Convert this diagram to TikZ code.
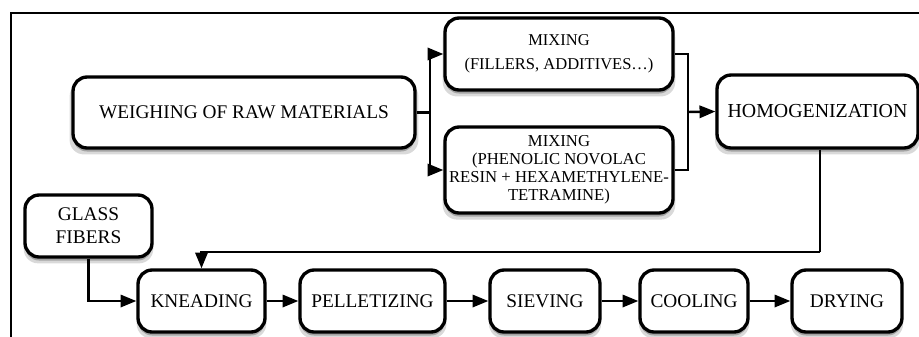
\documentclass[tikz,border=0pt]{standalone}
\usepackage{fontspec}
\setmainfont{Liberation Serif}
\usetikzlibrary{arrows.meta,shadows}
\begin{document}
\begin{tikzpicture}[x=0.02cm,y=-0.02cm,
  stage/.style={draw=black,line width=1.9pt,rounded corners=8pt,fill=white,align=center,inner sep=0pt,
    font=\fontsize{11}{13}\selectfont,
    drop shadow={shadow xshift=0pt,shadow yshift=-3.2pt,shadow scale=1.02,opacity=0.3},
    drop shadow={shadow xshift=0pt,shadow yshift=-2pt,opacity=0.6}},
  link/.style={line width=1.4pt},
  flow/.style={link,-{Triangle[length=9pt,width=7pt]}}]
\useasboundingbox (0,0) rectangle (919,336);
\clip (0,0) rectangle (919,336);
\draw[line width=0.9pt] (11,13) rectangle (960,380);
% top part
\node[stage,minimum width=6.84cm,minimum height=1.42cm] (weigh) at (244,112.5) {WEIGHING OF RAW MATERIALS};
\node[stage,minimum width=4.56cm,minimum height=1.44cm,font=\fontsize{9.4}{13.5}\selectfont] (mixA) at (559,54) {MIXING\\(FILLERS, ADDITIVES\dots)};
\node[stage,minimum width=4.56cm,minimum height=1.72cm,font=\fontsize{9.5}{10.3}\selectfont] (mixB) at (559,170) {MIXING\\(PHENOLIC NOVOLAC\\RESIN + HEXAMETHYLENE-\\TETRAMINE)};
\node[stage,minimum width=4.02cm,minimum height=1.46cm,font=\fontsize{11.3}{13}\selectfont] (homog) at (817.5,111.5) {HOMOGENIZATION};
\coordinate (split) at (430,112.5);
\coordinate (join) at (688,112);
\coordinate (back) at (820,252);
\draw[link] (weigh.east) -- (split);
\draw[flow] (split) |- (mixA.west);
\draw[flow] (split) |- (mixB.west);
\draw[link] (mixA.east) -| (join);
\draw[link] (mixB.east) -| (join);
\draw[flow] (join) -- (homog.west);
% bottom line
\node[stage,minimum width=2.54cm,minimum height=1.24cm] (glass) at (88.5,226) {GLASS\\FIBERS};
\node[stage,minimum width=2.54cm,minimum height=1.24cm] (knead) at (201.5,301) {KNEADING};
\node[stage,minimum width=2.9cm,minimum height=1.24cm] (pellet) at (372.5,301) {PELLETIZING};
\node[stage,minimum width=2.2cm,minimum height=1.24cm] (sieve) at (545,301) {SIEVING};
\node[stage,minimum width=2.16cm,minimum height=1.24cm] (cool) at (694,301) {COOLING};
\node[stage,minimum width=2.2cm,minimum height=1.24cm] (dry) at (847,301) {DRYING};
\draw[link] (homog.south -| back) -- (back);
\draw[flow] (back) -| (knead.north);
\draw[flow] (glass.south) |- (knead.west);
\draw[flow] (knead) -- (pellet);
\draw[flow] (pellet) -- (sieve);
\draw[flow] (sieve) -- (cool);
\draw[flow] (cool) -- (dry);
\end{tikzpicture}
\end{document}
